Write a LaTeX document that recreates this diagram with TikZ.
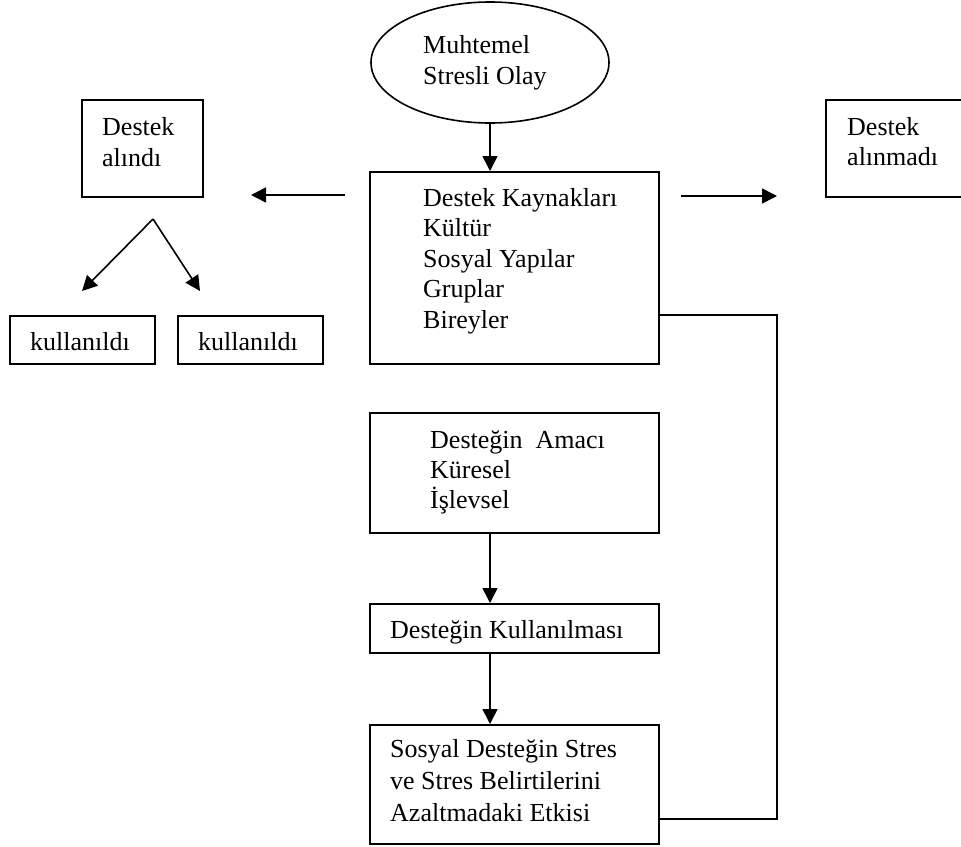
\documentclass[tikz,border=0pt]{standalone}
\usepackage{fontspec}
\setmainfont{Liberation Serif}
\usetikzlibrary{arrows.meta,shapes.geometric}
\tikzset{
  box/.style={draw, line width=1.6pt, rectangle, inner sep=0pt, anchor=north west},
  oval/.style={draw, line width=1.6pt, ellipse, inner sep=0pt, minimum width=238pt, minimum height=121pt},
  txt/.style={anchor=base west, inner sep=0pt, font=\fontsize{26}{31}\selectfont},
  conn/.style={line width=1.6pt},
  arr/.style={conn, -{Triangle[length=15pt,width=15pt]}}
}
\begin{document}
\begin{tikzpicture}[x=1pt,y=-1pt]
\clip (0,0) rectangle (961,846);
\useasboundingbox (0,0) rectangle (961,846);
% ellipse
\node[oval] (ev) at (490,62.5) {};
\node[txt] (ev1) at (423,53) {Muhtemel};
\node[txt] (ev2) at (423,84) {Stresli Olay};
% main box
\node[box, minimum width=289pt, minimum height=192pt] (src) at (369,171) {};
\node[txt] (s1) at (423,206) {Destek Kaynakları};
\node[txt] (s2) at (423,236.5) {Kültür};
\node[txt] (s3) at (423,267.5) {Sosyal Yapılar};
\node[txt] (s4) at (423,297.5) {Gruplar};
\node[txt] (s5) at (423,328) {Bireyler};
% side boxes
\node[box, minimum width=121pt, minimum height=97pt] (yes) at (81,99) {};
\node[txt] (y1) at (102,135) {Destek};
\node[txt] (y2) at (102,166) {alındı};
\node[box, minimum width=180pt, minimum height=97pt] (no) at (825,99) {};
\node[txt] (n1) at (847,135) {Destek};
\node[txt] (n2) at (847,165) {alınmadı};
% used boxes
\node[box, minimum width=145pt, minimum height=48pt] (u1) at (9,315) {};
\node[txt] (u1t) at (30,350) {kullanıldı};
\node[box, minimum width=145pt, minimum height=48pt] (u2) at (177,315) {};
\node[txt] (u2t) at (198,350) {kullanıldı};
% purpose box
\node[box, minimum width=289pt, minimum height=120pt] (aim) at (369,412) {};
\node[txt] (a1) at (430,448) {Desteğin\ \ Amacı};
\node[txt] (a2) at (430,478) {Küresel};
\node[txt] (a3) at (430,508) {İşlevsel};
% use box
\node[box, minimum width=289pt, minimum height=49pt] (use) at (369,603) {};
\node[txt] (us1) at (390,638) {Desteğin Kullanılması};
% effect box
\node[box, minimum width=289pt, minimum height=119pt] (eff) at (369,724) {};
\node[txt] (e1) at (390,757) {Sosyal Desteğin Stres};
\node[txt] (e2) at (390,789.5) {ve Stres Belirtilerini};
\node[txt] (e3) at (390,821) {Azaltmadaki Etkisi};
% free-end coordinates
\coordinate (la1) at (345,195);
\coordinate (la2) at (251,195);
\coordinate (ra1) at (681,196);
\coordinate (ra2) at (777,196);
\coordinate (apex) at (153,219);
\coordinate (d1) at (82,291);
\coordinate (d2) at (200,291);
\coordinate (fb) at (777,315);
% connectors
\draw[arr] (ev.south) -- (ev.south |- src.north);
\draw[arr] (la1) -- (la2);
\draw[arr] (ra1) -- (ra2);
\draw[arr] (apex) -- (d1);
\draw[arr] (apex) -- (d2);
\draw[arr] (aim.south west) ++(121,0) coordinate (aimb) -- (aimb |- use.north);
\draw[arr] (use.south west) ++(121,0) coordinate (useb) -- (useb |- eff.north);
\draw[conn] (src.east |- fb) -- (fb) |- (eff.east |- 0,819);
\end{tikzpicture}
\end{document}
